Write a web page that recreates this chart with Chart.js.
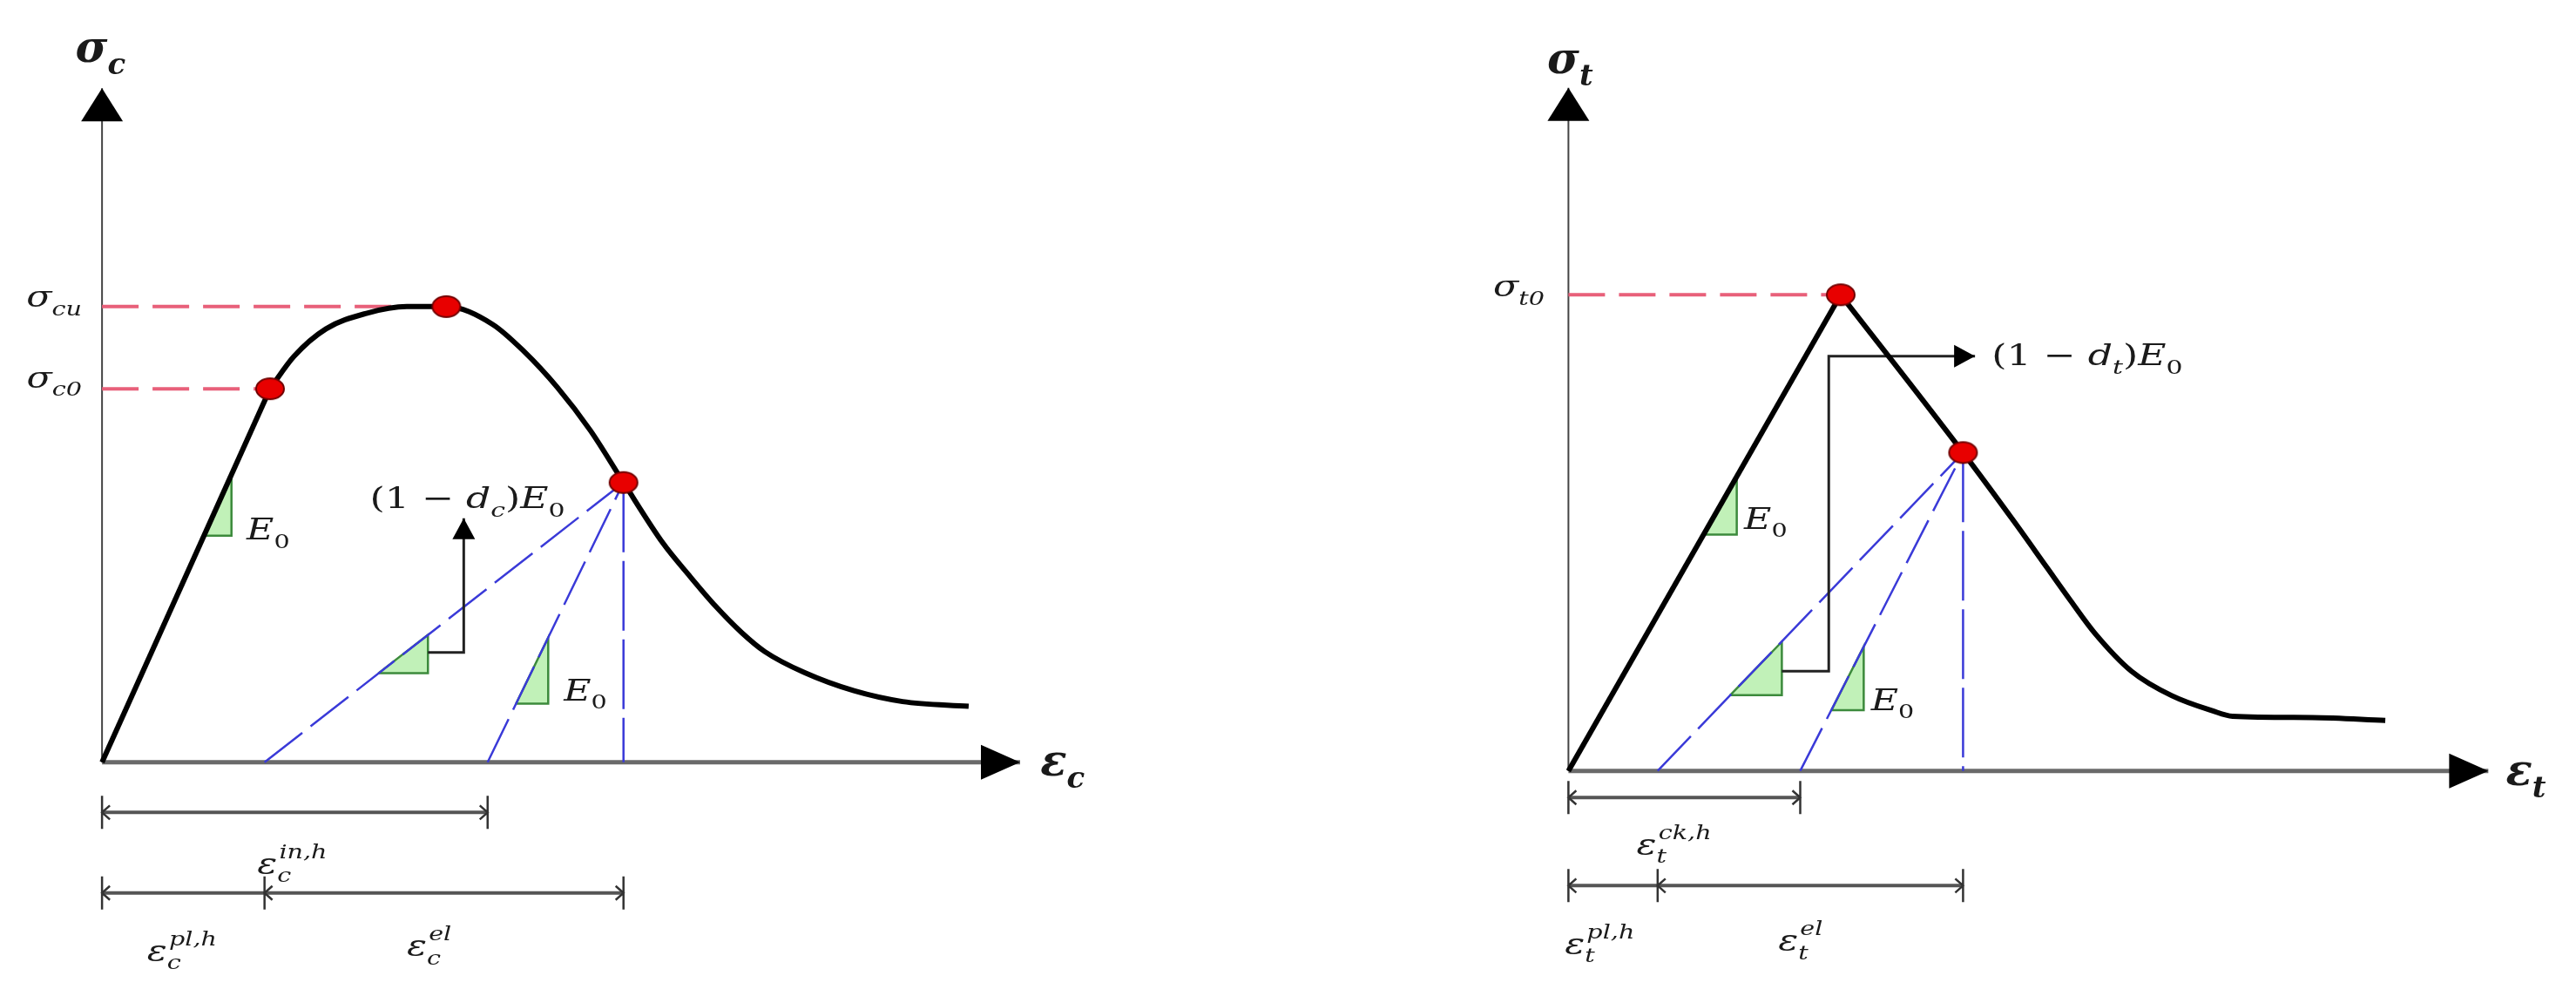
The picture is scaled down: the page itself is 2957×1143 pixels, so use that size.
<!DOCTYPE html>
<html>
<head>
<meta charset="utf-8">
<script src="https://cdn.jsdelivr.net/npm/chart.js@4.4.0/dist/chart.umd.min.js"></script>
<style>
  html, body { margin: 0; padding: 0; background: #fff; }
  #wrap { position: relative; width: 2957px; height: 1143px; }
  canvas { position: absolute; top: 0; }
  #compChart { left: 0; }
  #tensChart { left: 1478px; }
</style>
</head>
<body>
<div id="wrap">
  <canvas id="compChart" width="1478" height="1143"></canvas>
  <canvas id="tensChart" width="1479" height="1143"></canvas>
</div>
<script>
// ---- compression (strain, stress in arbitrary units, axis arrows at 10) ----
const compLoad = [[0, 0], [1.83, 5.54]];
const compCurve = [[1.83, 5.54], [2.09, 6.02], [2.44, 6.43], [2.88, 6.66], [3.32, 6.76], [3.75, 6.76],
  [4.25, 6.50], [4.60, 6.09], [4.96, 5.56], [5.32, 4.92], [5.68, 4.15], [6.11, 3.25], [6.39, 2.78],
  [6.68, 2.32], [6.97, 1.92], [7.22, 1.64], [7.65, 1.33], [8.19, 1.06], [8.72, 0.90], [9.44, 0.83]];
const compMarks = [[1.83, 5.54], [3.75, 6.76], [5.68, 4.15]];
const compStrainPl = 1.77;   // damaged unloading hits axis
const compStrainIn = 4.20;   // undamaged unloading hits axis
const compStrainU = 5.68;    // unloading point
const compStressU = 4.15;
const compSigma0 = 5.54, compSigmaPeak = 6.76, compEps0 = 1.83, compEpsPeak = 3.75;
const compTriLoad = [[1.11, 3.36], [1.41, 4.27], [1.41, 3.36]];
const compTriDamaged = [[3.01, 1.32], [3.55, 1.89], [3.55, 1.32]];
const compTriElastic = [[4.51, 0.87], [4.86, 1.85], [4.86, 0.87]];
const compHook = [[3.55, 1.63], [3.94, 1.63], [3.94, 3.62]];

// ---- tension ----
const tensLoad = [[0, 0], [2.96, 6.97]];
const tensCurve = [[2.96, 6.97], [4.29, 4.66], [4.85, 3.64], [5.20, 2.98], [5.46, 2.49], [5.72, 2.02],
  [6.12, 1.46], [6.56, 1.10], [7.00, 0.88], [7.22, 0.80], [8.09, 0.78], [8.88, 0.74]];
const tensMarks = [[2.96, 6.97], [4.29, 4.66]];
const tensStrainPl = 0.97;
const tensStrainCk = 2.52;
const tensStrainU = 4.29;
const tensStressU = 4.66;
const tensSigma0 = 6.97, tensEps0 = 2.96;
const tensTriLoad = [[1.47, 3.46], [1.83, 4.31], [1.83, 3.46]];
const tensTriDamaged = [[1.76, 1.11], [2.32, 1.89], [2.32, 1.11]];
const tensTriElastic = [[2.86, 0.89], [3.21, 1.82], [3.21, 0.89]];
const tensHook = [[2.32, 1.46], [2.83, 1.46], [2.83, 6.07], [4.42, 6.07]];

const pts = arr => arr.map(p => ({ x: p[0], y: p[1] }));
const FAM = '"DejaVu Serif", serif';
const STRETCH = 1.3;

function dotImage() {
  const cv = document.createElement('canvas');
  cv.width = 36; cv.height = 28;
  const g = cv.getContext('2d');
  g.beginPath();
  g.ellipse(18, 14, 16, 12, 0, 0, Math.PI * 2);
  g.fillStyle = '#e80000';
  g.fill();
  g.lineWidth = 2;
  g.strokeStyle = '#700000';
  g.stroke();
  return cv;
}

// math-ish text: runs of {t, it, sub, sup}
function drawRuns(c, runs, x, y, size, align, bold, sx) {
  const font = (s, it) => (it ? 'italic ' : '') + (bold ? 'bold ' : '') + s + 'px ' + FAM;
  const ss = Math.round(size * 0.68);
  const widths = runs.map(r => {
    c.font = font(size, r.it !== false);
    const w = c.measureText(r.t).width;
    c.font = font(ss, true);
    const ws = r.sub ? c.measureText(r.sub).width : 0;
    const wp = r.sup ? c.measureText(r.sup).width : 0;
    return [w, Math.max(ws, wp)];
  });
  const total = widths.reduce((a, w) => a + w[0] + w[1], 0);
  c.save();
  c.translate(x, y);
  c.scale(sx || STRETCH, 1);
  c.textAlign = 'left';
  c.textBaseline = 'alphabetic';
  c.fillStyle = '#1a1a1a';
  let cx = align === 'right' ? -total : align === 'center' ? -total / 2 : 0;
  const base = size * 0.3;
  runs.forEach((r, i) => {
    c.font = font(size, r.it !== false);
    c.fillText(r.t, cx, base);
    cx += widths[i][0];
    c.font = font(ss, r.subIt !== false);
    if (r.sub) c.fillText(r.sub, cx, base + size * 0.28);
    if (r.sup) c.fillText(r.sup, cx + size * 0.05, base - size * 0.55);
    cx += widths[i][1];
  });
  c.restore();
}

function head(c, x, y, dir, len, half) {
  c.beginPath();
  if (dir === 'right') { c.moveTo(x, y); c.lineTo(x - len, y - half); c.lineTo(x - len, y + half); }
  if (dir === 'up') { c.moveTo(x, y); c.lineTo(x - half, y + len); c.lineTo(x + half, y + len); }
  c.closePath();
  c.fillStyle = '#000';
  c.fill();
}

const decor = {
  id: 'decor',
  afterDatasetsDraw(chart, args, o) {
    const c = chart.ctx;
    const px = v => chart.scales.x.getPixelForValue(v);
    const py = v => chart.scales.y.getPixelForValue(v);
    // axis arrows
    head(c, px(10), py(0), 'right', 45, 20);
    head(c, px(0), py(10), 'up', 38, 24);
    // hook arrow
    const hk = o.hook[o.hook.length - 1];
    head(c, px(hk[0]), py(hk[1]), o.hookDir, 24, 13);
    // dimension ticks
    c.strokeStyle = '#333';
    c.lineWidth = 2.5;
    o.dims.forEach(d => {
      const yy = py(d.y);
      d.xs.forEach((xv, i) => {
        const xx = px(xv);
        const s = i === d.xs.length - 1 ? -1 : 1;
        c.beginPath();
        c.moveTo(xx, yy - 19); c.lineTo(xx, yy + 19);
        c.moveTo(xx + s * 9, yy - 8); c.lineTo(xx, yy); c.lineTo(xx + s * 9, yy + 8);
        c.stroke();
      });
    });
    o.labels.forEach(l => drawRuns(c, l.runs, px(l.x), py(l.y), l.size, l.align, l.bold, l.sx));
  }
};

function makePanel(id, p) {
  const dot = dotImage();
  const line = (data, color, width, dash, order, extra) => Object.assign({
    data: pts(data), borderColor: color, borderWidth: width, borderDash: dash || [],
    pointRadius: 0, tension: 0, fill: false, order: order
  }, extra || {});
  const tri = data => line(data.concat([data[0]]), '#3c8a3c', 2.5, null, 4,
    { fill: 'shape', backgroundColor: 'rgba(190,240,180,0.95)' });
  const datasets = [
    { data: pts(p.marks), showLine: false, pointStyle: dot, pointRadius: 12, order: 0 },
    line(p.load, '#000', 6, null, 1),
    line(p.curve, '#000', 6, null, 1, { cubicInterpolationMode: 'monotone' }),
    line(p.hook, '#222', 3, null, 2),
    line([[p.strainPl, 0], [p.strainU, p.stressU]], '#3a3ad8', 2.5, [55, 12], 3),
    line([[p.strainEl, 0], [p.strainU, p.stressU]], '#3a3ad8', 2.5, [55, 12], 3),
    line([[p.strainU, p.stressU], [p.strainU, 0]], '#3a3ad8', 2.5, [80, 10], 3)
  ];
  p.refs.forEach(r => datasets.push(line([[0, r[1]], [r[0], r[1]]], '#e8607a', 4, [42, 16], 3)));
  p.tris.forEach(t => datasets.push(tri(t)));
  p.dims.forEach(d => datasets.push(line([[d.xs[0], d.y], [d.xs[d.xs.length - 1], d.y]], '#555', 4, null, 5)));
  datasets.push(line([[0, 0], [10, 0]], '#6a6a6a', 5, null, 6));
  datasets.push(line([[0, 0], [0, 10]], '#444', 2, null, 6));

  return new Chart(document.getElementById(id), {
    type: 'line',
    data: { datasets: datasets },
    options: {
      responsive: false,
      devicePixelRatio: 1,
      animation: false,
      layout: { padding: 0 },
      scales: {
        x: { type: 'linear', min: p.xr[0], max: p.xr[1], display: false },
        y: { type: 'linear', min: p.yr[0], max: p.yr[1], display: false }
      },
      plugins: {
        legend: { display: false },
        tooltip: { enabled: false },
        decor: { hook: p.hook, hookDir: p.hookDir, dims: p.dims, labels: p.labels }
      }
    },
    plugins: [decor]
  });
}

makePanel('compChart', {
  xr: [-0.988, 12.79], yr: [-3.30, 11.14],
  load: compLoad, curve: compCurve, marks: compMarks, hook: compHook, hookDir: 'up',
  strainPl: compStrainPl, strainEl: compStrainIn, strainU: compStrainU, stressU: compStressU,
  refs: [[compEps0, compSigma0], [compEpsPeak, compSigmaPeak]],
  tris: [compTriLoad, compTriDamaged, compTriElastic],
  dims: [{ y: -0.745, xs: [0, compStrainIn] }, { y: -1.94, xs: [0, compStrainPl, compStrainU] }],
  labels: [
    { x: -0.29, y: 10.58, size: 50, bold: true, sx: 1, align: 'left', runs: [{ t: 'σ', sub: 'c' }] },
    { x: 10.22, y: 0.0, size: 50, bold: true, sx: 1, align: 'left', runs: [{ t: 'ε', sub: 'c' }] },
    { x: -0.22, y: 6.88, size: 33, align: 'right', runs: [{ t: 'σ', sub: 'cu' }] },
    { x: -0.22, y: 5.68, size: 33, align: 'right', runs: [{ t: 'σ', sub: 'c0' }] },
    { x: 3.98, y: 3.90, size: 34, align: 'center',
      runs: [{ t: '(1 − ', it: false }, { t: 'd', sub: 'c' }, { t: ')', it: false }, { t: 'E', sub: '0', subIt: false }] },
    { x: 1.575, y: 3.43, size: 33, align: 'left', runs: [{ t: 'E', sub: '0', subIt: false }] },
    { x: 5.03, y: 1.04, size: 33, align: 'left', runs: [{ t: 'E', sub: '0', subIt: false }] },
    { x: 1.69, y: -1.53, size: 33, align: 'left', runs: [{ t: 'ε', sub: 'c', sup: 'in,h' }] },
    { x: 0.49, y: -2.82, size: 33, align: 'left', runs: [{ t: 'ε', sub: 'c', sup: 'pl,h' }] },
    { x: 3.32, y: -2.75, size: 33, align: 'left', runs: [{ t: 'ε', sub: 'c', sup: 'el' }] }
  ]
});

makePanel('tensChart', {
  xr: [-2.93, 10.83], yr: [-3.13, 11.12],
  load: tensLoad, curve: tensCurve, marks: tensMarks, hook: tensHook, hookDir: 'right',
  strainPl: tensStrainPl, strainEl: tensStrainCk, strainU: tensStrainU, stressU: tensStressU,
  refs: [[tensEps0, tensSigma0]],
  tris: [tensTriLoad, tensTriDamaged, tensTriElastic],
  dims: [{ y: -0.39, xs: [0, tensStrainCk] }, { y: -1.68, xs: [0, tensStrainPl, tensStrainU] }],
  labels: [
    { x: -0.23, y: 10.41, size: 50, bold: true, sx: 1, align: 'left', runs: [{ t: 'σ', sub: 't' }] },
    { x: 10.19, y: -0.02, size: 50, bold: true, sx: 1, align: 'left', runs: [{ t: 'ε', sub: 't' }] },
    { x: -0.26, y: 7.07, size: 33, align: 'right', runs: [{ t: 'σ', sub: 't0' }] },
    { x: 4.60, y: 6.07, size: 34, align: 'left',
      runs: [{ t: '(1 − ', it: false }, { t: 'd', sub: 't' }, { t: ')', it: false }, { t: 'E', sub: '0', subIt: false }] },
    { x: 1.91, y: 3.67, size: 33, align: 'left', runs: [{ t: 'E', sub: '0', subIt: false }] },
    { x: 3.29, y: 1.02, size: 33, align: 'left', runs: [{ t: 'E', sub: '0', subIt: false }] },
    { x: 0.74, y: -1.10, size: 33, align: 'left', runs: [{ t: 'ε', sub: 't', sup: 'ck,h' }] },
    { x: -0.04, y: -2.56, size: 33, align: 'left', runs: [{ t: 'ε', sub: 't', sup: 'pl,h' }] },
    { x: 2.28, y: -2.51, size: 33, align: 'left', runs: [{ t: 'ε', sub: 't', sup: 'el' }] }
  ]
});
</script>
</body>
</html>
